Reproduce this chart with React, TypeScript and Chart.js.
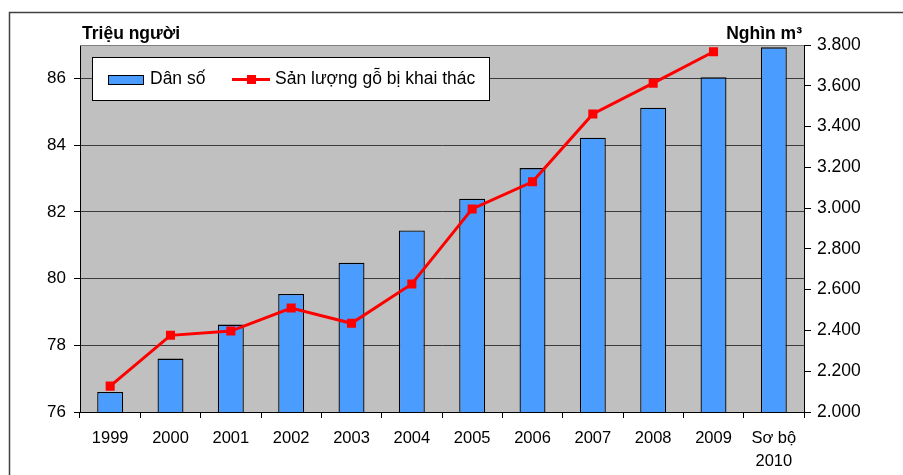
import React, { useEffect, useRef } from "react";
import { Chart, registerables } from "chart.js";

Chart.register(...registerables);

const categories: (string | string[])[] = [
  "1999", "2000", "2001", "2002", "2003", "2004", "2005", "2006", "2007", "2008", "2009", ["Sơ bộ", "2010"],
];
const population = [76.6, 77.6, 78.62, 79.54, 80.47, 81.44, 82.39, 83.31, 84.22, 85.12, 86.03, 86.93];
const timber = [2127, 2376, 2397, 2510, 2435, 2628, 2996, 3129, 3462, 3613, 3767, null];

const leftTitle = "Triệu người";
const rightTitle = "Nghìn m³";
const barLabel = "Dân số";
const lineLabel = "Sản lượng gỗ bị khai thác";

const BLUE = "#4A9CFF";
const RED = "#FF0000";
const FONT = "Arial, 'Liberation Sans', sans-serif";

const decor = {
  id: "decor",
  beforeDraw(chart: any) {
    const { ctx, chartArea: a, width, height } = chart;
    ctx.save();
    ctx.fillStyle = "#ffffff";
    ctx.fillRect(0, 0, width, height);
    ctx.fillStyle = "#C0C0C0";
    ctx.fillRect(a.left, a.top, a.right - a.left, a.bottom - a.top);
    // outer frame
    ctx.strokeStyle = "#404040";
    ctx.lineWidth = 1.5;
    ctx.beginPath();
    ctx.moveTo(9.5, height + 5);
    ctx.lineTo(9.5, 12.5);
    ctx.lineTo(width + 5, 12.5);
    ctx.stroke();
    ctx.restore();
  },
  afterDraw(chart: any) {
    const { ctx, chartArea: a } = chart;
    ctx.save();
    // top border of plot
    ctx.strokeStyle = "#808080";
    ctx.lineWidth = 1;
    ctx.beginPath();
    ctx.moveTo(a.left, a.top + 0.5);
    ctx.lineTo(a.right, a.top + 0.5);
    ctx.stroke();

    // axis titles
    ctx.fillStyle = "#000";
    ctx.font = `bold 17.5px ${FONT}`;
    ctx.textBaseline = "alphabetic";
    ctx.textAlign = "left";
    ctx.fillText(leftTitle, 82, 39);
    ctx.textAlign = "right";
    ctx.fillText(rightTitle, 802, 39);

    // legend box
    ctx.fillStyle = "#fff";
    ctx.fillRect(92, 57, 397, 44);
    ctx.strokeStyle = "#000";
    ctx.lineWidth = 1;
    ctx.strokeRect(92.5, 57.5, 397, 43);

    ctx.fillStyle = BLUE;
    ctx.fillRect(108, 75, 35, 9);
    ctx.strokeRect(108.5, 75.5, 35, 9);

    ctx.font = `17.5px ${FONT}`;
    ctx.fillStyle = "#000";
    ctx.textAlign = "left";
    ctx.fillText(barLabel, 150, 84);

    ctx.strokeStyle = RED;
    ctx.lineWidth = 3;
    ctx.beginPath();
    ctx.moveTo(232, 79.5);
    ctx.lineTo(270, 79.5);
    ctx.stroke();
    ctx.fillStyle = RED;
    ctx.fillRect(247, 75, 9, 9);

    ctx.fillStyle = "#000";
    ctx.fillText(lineLabel, 275, 84);
    ctx.restore();
  },
};

export default function App() {
  const ref = useRef<HTMLCanvasElement | null>(null);
  useEffect(() => {
    document.body.style.margin = "0";
    const canvas = ref.current!;
    const chart = new Chart(canvas, {
      type: "bar",
      data: {
        labels: categories as any,
        datasets: [
          {
            type: "line",
            label: lineLabel,
            data: timber as any,
            yAxisID: "y1",
            borderColor: RED,
            backgroundColor: RED,
            borderWidth: 3,
            pointStyle: "rect",
            pointRadius: 6.4,
            pointBorderWidth: 0,
            pointBackgroundColor: RED,
            tension: 0,
            order: 0,
          } as any,
          {
            type: "bar",
            label: barLabel,
            data: population,
            yAxisID: "y",
            backgroundColor: BLUE,
            borderColor: "#000",
            borderWidth: 1.3,
            borderSkipped: false,
            barPercentage: 0.43,
            categoryPercentage: 1,
            order: 1,
          } as any,
        ],
      },
      options: {
        animation: false,
        responsive: false,
        maintainAspectRatio: false,
        layout: { padding: { top: 45, left: 0, right: 0, bottom: 0 } },
        plugins: { legend: { display: false }, tooltip: { enabled: false } },
        scales: {
          x: {
            offset: true,
            grid: { offset: true, drawOnChartArea: false, color: "#000", tickLength: 6, tickWidth: 1 },
            border: { color: "#000", width: 1 },
            ticks: { color: "#000", font: { family: FONT, size: 16.5, lineHeight: 1.4 }, padding: 9, maxRotation: 0, autoSkip: false },
            afterFit(s: any) { s.height = 63; },
          },
          y: {
            position: "left",
            min: 76,
            max: 87,
            ticks: { stepSize: 2, color: "#000", font: { family: FONT, size: 17 }, padding: 8 },
            grid: { color: "#3c3c3c", lineWidth: 1, tickLength: 6, tickColor: "#000" },
            border: { color: "#000", width: 1 },
            afterBuildTicks(s: any) { s.ticks = s.ticks.filter((t: any) => t.value !== 87); },
            afterFit(s: any) { s.width = 80; },
          },
          y1: {
            position: "right",
            min: 2000,
            max: 3800,
            ticks: {
              stepSize: 200,
              color: "#000",
              font: { family: FONT, size: 17.5 },
              padding: 6,
              callback: (v: any) => String(v).replace(/\B(?=(\d{3})+(?!\d))/g, "."),
            },
            grid: { drawOnChartArea: false, tickLength: 7, color: "#000" },
            border: { color: "#000", width: 1 },
            afterFit(s: any) { s.width = 99; },
          },
        },
      },
      plugins: [decor],
    });
    return () => chart.destroy();
  }, []);
  return <canvas ref={ref} width={903} height={475} style={{ display: "block" }} />;
}
